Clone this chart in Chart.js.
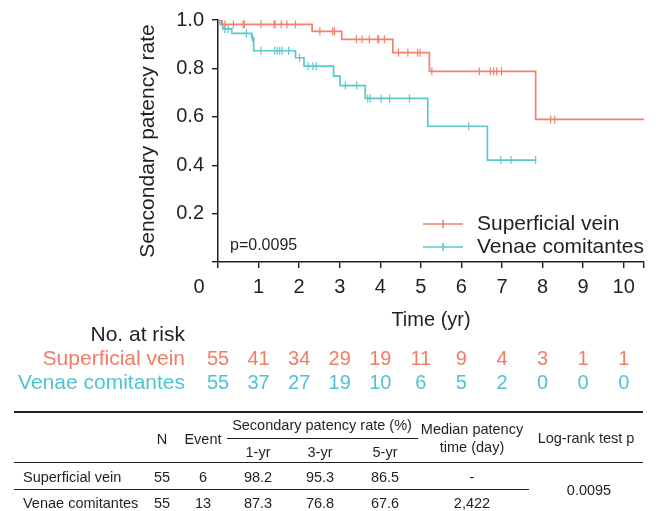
<!DOCTYPE html>
<html>
<head>
<meta charset="utf-8">
<script src="https://cdn.jsdelivr.net/npm/chart.js@4"></script>
<style>
html, body { margin: 0; padding: 0; background: #fff; }
#wrap { position: relative; width: 656px; height: 511px; font-family: 'Liberation Sans', Arial, sans-serif; color: #231f20; }
#kmChart { position: absolute; left: 0; top: 0; }
.t { position: absolute; font-size: 14.5px; transform: translate(-50%, -50%); white-space: nowrap; line-height: 1; }
.tl { position: absolute; font-size: 14.5px; transform: translateY(-50%); white-space: nowrap; line-height: 1; }
.rule { position: absolute; height: 0; border-top: 1.4px solid #231f20; }
</style>
</head>
<body>
<div id="wrap">
  <canvas id="kmChart" width="656" height="511"></canvas>
  <div id="tbl"></div>
</div>
<script>
const years = [0, 1, 2, 3, 4, 5, 6, 7, 8, 9, 10];
const yTicks = [0, 0.2, 0.4, 0.6, 0.8, 1.0];
const seriesNames = ['Superficial vein', 'Venae comitantes'];
const seriesColors = ['#f4806c', '#5cc8cb'];
const riskColors = ['#f27c66', '#4fc3d1'];

// Kaplan-Meier steps (time in years, survival)
const superficialTimes = [0, 0.09, 2.32, 3.05, 4.31, 5.21, 7.83, 10.5];
const superficialSurv = [1.0, 0.982, 0.953, 0.920, 0.865, 0.788, 0.589, 0.589];
const superficialCensor = [0.17, 0.38, 0.62, 0.65, 1.06, 1.38, 1.41, 1.56, 1.70, 1.91, 2.51, 2.83, 2.87,
  3.41, 3.55, 3.73, 3.94, 3.96, 4.10, 4.45, 4.68, 4.92, 4.98, 5.27, 6.44, 6.71, 6.79, 6.87, 6.99, 8.20, 8.30];

const venaeTimes = [0, 0.05, 0.12, 0.34, 0.83, 0.88, 1.91, 2.12, 2.85, 3.01, 3.63, 5.17, 6.64, 7.83];
const venaeSurv = [1.0, 0.982, 0.963, 0.945, 0.927, 0.873, 0.844, 0.809, 0.768, 0.729, 0.676, 0.561, 0.421, 0.421];
const venaeCensor = [0.11, 0.17, 0.25, 0.70, 0.85, 1.06, 1.40, 1.46, 1.52, 1.58, 1.74, 2.01, 2.22, 2.34, 2.42,
  3.14, 3.42, 3.69, 3.75, 4.02, 4.23, 4.72, 6.18, 6.97, 7.22, 7.83];

const riskSuperficial = [55, 41, 34, 29, 19, 11, 9, 4, 3, 1, 1];
const riskVenae = [55, 37, 27, 19, 10, 6, 5, 2, 0, 0, 0];
const pValue = 'p=0.0095';

// summary table
const tableGroups = ['Superficial vein', 'Venae comitantes'];
const tableN = [55, 55];
const tableEvent = [6, 13];
const rate1yr = ['98.2', '87.3'];
const rate3yr = ['95.3', '76.8'];
const rate5yr = ['86.5', '67.6'];
const medianDays = ['-', '2,422'];
const logRankP = '0.0095';

function stepData(times, surv) {
  return times.map((t, i) => ({ x: t, y: surv[i] }));
}
function survAt(times, surv, t) {
  let s = surv[0];
  for (let i = 0; i < times.length; i++) if (times[i] <= t) s = surv[i];
  return s;
}
function censorData(cens, times, surv) {
  return cens.map(t => ({ x: t, y: survAt(times, surv, t) }));
}

const ink = '#231f20';
const font = "'Liberation Sans', Arial, sans-serif";

const decor = {
  id: 'decor',
  afterDraw(chart) {
    const ctx = chart.ctx;
    const xs = chart.scales.x;
    const area = chart.chartArea;
    ctx.save();
    ctx.fillStyle = ink;

    // y title
    ctx.save();
    ctx.translate(148, (area.top + area.bottom) / 2);
    ctx.rotate(-Math.PI / 2);
    ctx.font = '21px ' + font;
    ctx.textAlign = 'center';
    ctx.textBaseline = 'middle';
    ctx.fillText('Sencondary patency rate', 0, 0);
    ctx.restore();

    // "0" label sits left of the axis
    ctx.font = '20px ' + font;
    ctx.textAlign = 'center';
    ctx.textBaseline = 'middle';
    ctx.fillText('0', xs.getPixelForValue(0) - 19, 287);

    // x title
    ctx.fillText('Time (yr)', (area.left + area.right) / 2, 320);

    // p value
    ctx.font = '16px ' + font;
    ctx.textAlign = 'left';
    ctx.fillText(pValue, 230, 246);

    // legend
    ctx.font = '21px ' + font;
    seriesNames.forEach((name, i) => {
      const y = 224 + i * 23;
      ctx.strokeStyle = seriesColors[i];
      ctx.lineWidth = 1.6;
      ctx.beginPath();
      ctx.moveTo(423, y); ctx.lineTo(463, y);
      ctx.moveTo(443, y - 4); ctx.lineTo(443, y + 4);
      ctx.stroke();
      ctx.fillStyle = ink;
      ctx.textAlign = 'left';
      ctx.fillText(name, 477, y);
    });

    // number at risk
    ctx.textAlign = 'right';
    ctx.fillStyle = ink;
    ctx.font = '21px ' + font;
    ctx.fillText('No. at risk', 185, 335);
    const risks = [riskSuperficial, riskVenae];
    risks.forEach((row, i) => {
      const y = 359 + i * 24;
      ctx.fillStyle = riskColors[i];
      ctx.textAlign = 'right';
      ctx.font = '21px ' + font;
      ctx.fillText(seriesNames[i], 185, y);
      ctx.textAlign = 'center';
      ctx.font = '20px ' + font;
      row.forEach((n, j) => ctx.fillText(String(n), xs.getPixelForValue(years[j]), y));
    });
    ctx.restore();
  }
};

new Chart(document.getElementById('kmChart').getContext('2d'), {
  type: 'line',
  data: {
    datasets: [
      {
        label: seriesNames[0],
        data: stepData(superficialTimes, superficialSurv),
        borderColor: seriesColors[0], borderWidth: 1.7,
        stepped: 'before', pointRadius: 0, fill: false
      },
      {
        label: seriesNames[1],
        data: stepData(venaeTimes, venaeSurv),
        borderColor: seriesColors[1], borderWidth: 1.7,
        stepped: 'before', pointRadius: 0, fill: false
      },
      {
        label: 'censor-1',
        data: censorData(superficialCensor, superficialTimes, superficialSurv),
        showLine: false, pointStyle: 'line', rotation: 90, pointRadius: 4,
        borderColor: seriesColors[0], pointBorderWidth: 1.2
      },
      {
        label: 'censor-2',
        data: censorData(venaeCensor, venaeTimes, venaeSurv),
        showLine: false, pointStyle: 'line', rotation: 90, pointRadius: 4,
        borderColor: seriesColors[1], pointBorderWidth: 1.2
      }
    ]
  },
  options: {
    responsive: false,
    animation: false,
    devicePixelRatio: 1,
    layout: { padding: { left: 0, top: 20, right: 12, bottom: 209 } },
    plugins: { legend: { display: false }, tooltip: { enabled: false } },
    scales: {
      x: {
        type: 'linear', min: 0, max: 10.5,
        afterBuildTicks: s => { s.ticks = years.map(v => ({ value: v })).concat([{ value: 10.5 }]); },
        ticks: {
          callback: v => (v === 0 || v === 10.5) ? '' : String(v),
          font: { size: 20, family: font }, color: ink, padding: 7,
          maxRotation: 0, autoSkip: false
        },
        grid: { drawOnChartArea: false, tickLength: 6, color: ink, lineWidth: 1.4 },
        border: { color: ink, width: 1.5 },
        afterFit: s => { s.height = 40; }
      },
      y: {
        min: 0, max: 1,
        afterBuildTicks: s => { s.ticks = yTicks.map(v => ({ value: v })); },
        ticks: {
          callback: v => v === 0 ? '' : v.toFixed(1),
          font: { size: 20, family: font }, color: ink, padding: 8
        },
        grid: { drawOnChartArea: false, tickLength: 6, color: ink, lineWidth: 1.4 },
        border: { color: ink, width: 1.5 },
        afterFit: s => { s.width = 218; }
      }
    }
  },
  plugins: [decor]
});

// summary table below the chart
const tbl = document.getElementById('tbl');
function cell(text, x, y, cls) {
  const d = document.createElement('div');
  d.className = cls || 't';
  d.style.left = x + 'px';
  d.style.top = y + 'px';
  d.textContent = text;
  tbl.appendChild(d);
}
function rule(x1, x2, y, w) {
  const d = document.createElement('div');
  d.className = 'rule';
  d.style.left = x1 + 'px';
  d.style.width = (x2 - x1) + 'px';
  d.style.top = y + 'px';
  if (w) d.style.borderTopWidth = w + 'px';
  tbl.appendChild(d);
}
const colX = { n: 162, ev: 203, r1: 258, r3: 320, r5: 385, med: 472, p: 586 };
rule(14, 643, 411, 2);
cell('N', colX.n, 439);
cell('Event', colX.ev, 439);
cell('Secondary patency rate (%)', 322, 425);
rule(227, 418, 438, 1.2);
cell('1-yr', colX.r1, 452);
cell('3-yr', colX.r3, 452);
cell('5-yr', colX.r5, 452);
cell('Median patency', colX.med, 429);
cell('time (day)', colX.med, 447);
cell('Log-rank test p', colX.p, 438);
rule(14, 643, 462, 1.6);
tableGroups.forEach((g, i) => {
  const y = 477 + i * 26;
  cell(g, 23, y, 'tl');
  cell(String(tableN[i]), colX.n, y);
  cell(String(tableEvent[i]), colX.ev, y);
  cell(rate1yr[i], colX.r1, y);
  cell(rate3yr[i], colX.r3, y);
  cell(rate5yr[i], colX.r5, y);
  cell(medianDays[i], colX.med, y);
});
rule(14, 529, 489, 1.6);
cell(logRankP, 589, 490);
</script>
</body>
</html>
